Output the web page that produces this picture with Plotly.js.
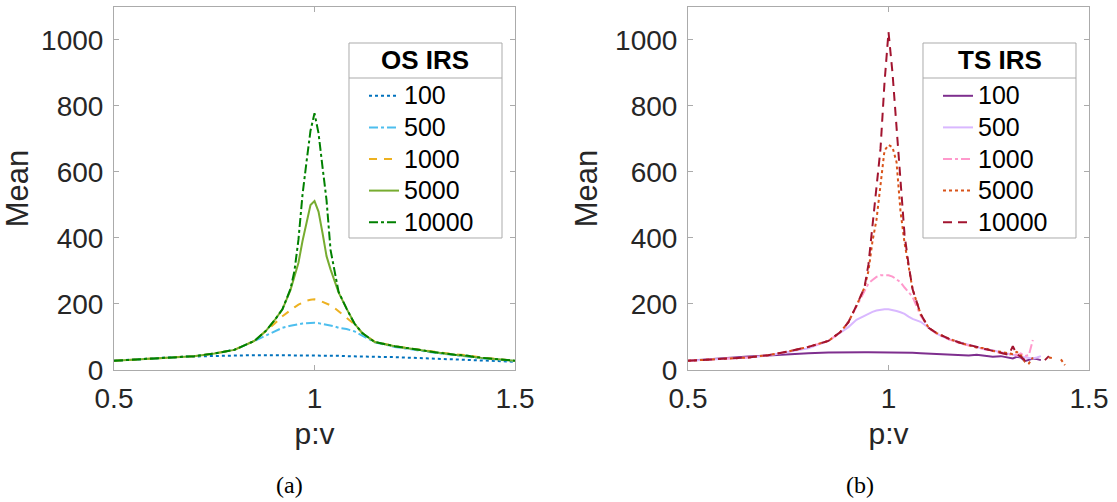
<!DOCTYPE html>
<html>
<head>
<meta charset="utf-8">
<script src="https://cdn.plot.ly/plotly-3.0.1.min.js"></script>
<style>html,body{margin:0;padding:0;background:#fff;}#chart{width:1117px;height:502px;}</style>
</head>
<body>
<div id="chart"></div>
<script>
// ---------- data ----------
const seriesNames = ['100', '500', '1000', '5000', '10000'];
const legendTitles = ['OS IRS', 'TS IRS'];
const panelLabels = ['(a)', '(b)'];
const xTicks = [0.5, 1, 1.5];
const xTickText = ['0.5', '1', '1.5'];
const yTicks = [0, 200, 400, 600, 800, 1000];
const yTickText = ['0', '200', '400', '600', '800', '1000'];

// (a) OS IRS
const xOS = [0.5,0.55,0.6,0.65,0.7,0.75,0.8,0.85,0.88,0.9,0.92,0.94,0.95,0.96,0.97,0.98,0.99,1.0,1.01,1.02,1.03,1.04,1.05,1.06,1.08,1.1,1.12,1.15,1.2,1.25,1.3,1.35,1.38,1.4,1.42,1.45,1.48,1.5];
const os100   = [28,32,36,39,41,43,45,45,45,45,45,44,44,44,44,44,44,44,44,44,43,43,43,43,42,41,41,40,39,37,35,32,31,30,29,27,26,25];
const os500   = [28,31,34,38,42,50,61,88,106,118,128,134,137,139,141,142,143,143,142,140,138,135,132,128,124,117,104,84,70,60,52,45,42,38,35,32,29,27];
const os1000  = [28,31,34,38,42,50,61,88,118,140,163,182,190,198,205,210,213,214,212,207,201,196,188,178,160,138,111,86,72,63,55,47,45,41,37,34,30,28];
const os5000  = [28,31,34,38,42,50,61,88,120,150,184,242,285,325,390,450,500,512,480,415,345,305,270,235,186,140,111,85,72,62,54,46,43,39,36,33,30,28];
const os10000 = [28,31,34,38,42,50,61,88,120,150,184,245,300,395,530,630,725,778,718,615,515,364,296,237,186,140,111,85,72,62,54,46,44,39,37,33,31,28];

// (b) TS IRS
const xTS = [0.5,0.55,0.6,0.65,0.7,0.75,0.8,0.85,0.88,0.9,0.92,0.94,0.95,0.96,0.97,0.98,0.99,1.0,1.01,1.02,1.03,1.04,1.05,1.06,1.08,1.1,1.12,1.15,1.18,1.2,1.22,1.24,1.26,1.28,1.3,1.31,1.32,1.33,1.34,1.35,1.36,1.37,1.38,1.39,1.4,1.41,1.42,1.43,1.44];
const ts100   = [28,33,37,41,44,48,51,53,54,54,54,54,54,54,54,54,54,54,53,53,53,53,52,52,51,50,48,46,45,44,46,42,40,42,36,35,40,38,27,30,35,33,30,null,null,null,null,null,null];
const ts500   = [28,31,34,38,44,54,66,88,112,130,152,165,170,176,180,183,184,184,182,179,175,170,162,155,146,128,110,93,84,78,70,62,60,54,50,48,44,40,38,36,35,38,42,null,null,null,null,null,null];
const ts1000  = [28,31,34,38,45,56,70,88,115,145,192,242,262,273,282,287,288,287,283,275,266,250,235,222,165,128,110,93,80,74,68,63,57,52,46,50,44,50,42,45,91,null,null,null,null,null,null,null,null];
const ts5000  = [28,31,34,38,45,56,70,88,115,145,195,250,300,390,455,565,665,682,675,630,480,385,315,245,170,128,112,95,82,74,68,66,58,55,50,48,55,45,25,20,38,null,null,null,38,36,null,32,15];
const ts10000 = [28,31,34,38,45,56,70,88,115,145,195,250,320,430,540,670,870,1024,900,740,580,410,320,245,170,128,112,95,82,76,70,64,56,52,46,72,48,40,30,38,null,null,null,30,42,null,null,null,null];

// ---------- styles ----------
const osColors = ['#0072BD', '#4DBEEE', '#EDB120', '#77AC30', '#008000'];
const osDash = ['dot', 'dashdot', '8px,7px', 'solid', 'dashdot'];
const tsColors = ['#7E2F8E', '#D9B8FF', '#FF99CC', '#D95319', '#A2142F'];
const tsDash = ['solid', 'solid', 'dashdot', 'dot', '9px,6px'];

const osData = [os100, os500, os1000, os5000, os10000];
const tsData = [ts100, ts500, ts1000, ts5000, ts10000];

const entryLabel = s => '<span style="font-size:25px">' + s + '</span>';

const traces = [];
osData.forEach((ys, i) => traces.push({
  x: xOS, y: ys, type: 'scatter', mode: 'lines', name: entryLabel(seriesNames[i]),
  line: {color: osColors[i], dash: osDash[i], width: 2},
  xaxis: 'x', yaxis: 'y', legend: 'legend', connectgaps: false
}));
tsData.forEach((ys, i) => traces.push({
  x: xTS, y: ys, type: 'scatter', mode: 'lines', name: entryLabel(seriesNames[i]),
  line: {color: tsColors[i], dash: tsDash[i], width: 2},
  xaxis: 'x2', yaxis: 'y2', legend: 'legend2', connectgaps: false
}));

const FONT = 'Liberation Sans, Arial, Helvetica, sans-serif';
const GRAY = '#ababab';
const axisCommon = {
  showline: true, linecolor: GRAY, linewidth: 1, mirror: 'ticks',
  ticks: 'inside', ticklen: 5, tickcolor: GRAY, tickwidth: 1,
  showgrid: false, zeroline: false, automargin: false,
  tickfont: {family: FONT, size: 28, color: '#262626'}
};
function xAx(domain, anchor) {
  return Object.assign({}, axisCommon, {
    domain: domain, anchor: anchor, range: [0.5, 1.5],
    tickvals: xTicks, ticktext: xTickText, ticklabelstandoff: 3,
    title: {text: 'p:v', font: {family: FONT, size: 30, color: '#262626'}, standoff: 10}
  });
}
function yAx(anchor) {
  return Object.assign({}, axisCommon, {
    domain: [0.26295, 0.98606], anchor: anchor, range: [0, 1100],
    tickvals: yTicks, ticktext: yTickText, ticklabelstandoff: 4,
    title: {text: 'Mean', font: {family: FONT, size: 31, color: '#262626'}, standoff: 8}
  });
}
function legendCfg(x) {
  return {
    x: x, y: 0.8506, xanchor: 'left', yanchor: 'top', xref: 'paper', yref: 'paper',
    bgcolor: 'rgba(0,0,0,0)', borderwidth: 0,
    font: {family: FONT, size: 22, color: '#000000'},
    itemwidth: 30, tracegroupgap: 0
  };
}

// legend frames (paper fractions)
const boxes = [
  {x0: 0.31244, x1: 0.44942, xc: 0.38093, legX: 0.32587},
  {x0: 0.82632, x1: 0.96329, xc: 0.89481, legX: 0.83975}
];
const shapes = [];
const annotations = [];
boxes.forEach((b, i) => {
  shapes.push({type: 'rect', xref: 'paper', yref: 'paper', x0: b.x0, x1: b.x1, y0: 0.52590, y1: 0.91434,
    line: {color: GRAY, width: 1}, fillcolor: 'rgba(0,0,0,0)', layer: 'above'});
  shapes.push({type: 'line', xref: 'paper', yref: 'paper', x0: b.x0, x1: b.x1, y0: 0.84462, y1: 0.84462,
    line: {color: GRAY, width: 1}, layer: 'above'});
  annotations.push({text: '<b>' + legendTitles[i] + '</b>', xref: 'paper', yref: 'paper', x: b.xc, y: 0.8805,
    xanchor: 'center', yanchor: 'middle', showarrow: false, font: {family: FONT, size: 26, color: '#000000'}});
});
annotations.push({text: panelLabels[0], xref: 'paper', yref: 'paper', x: 0.2596, y: 0.034, xanchor: 'center', yanchor: 'middle', showarrow: false,
  font: {family: 'Liberation Serif, Times New Roman, serif', size: 24, color: '#000000'}});
annotations.push({text: panelLabels[1], xref: 'paper', yref: 'paper', x: 0.7703, y: 0.034, xanchor: 'center', yanchor: 'middle', showarrow: false,
  font: {family: 'Liberation Serif, Times New Roman, serif', size: 24, color: '#000000'}});

const layout = {
  width: 1117, height: 502,
  margin: {l: 0, r: 0, t: 0, b: 0},
  paper_bgcolor: '#ffffff', plot_bgcolor: '#ffffff',
  font: {family: FONT, color: '#262626'},
  xaxis: xAx([0.10206, 0.46106], 'y'),
  yaxis: yAx('x'),
  xaxis2: xAx([0.61594, 0.97493], 'y2'),
  yaxis2: yAx('x2'),
  legend: legendCfg(boxes[0].legX),
  legend2: legendCfg(boxes[1].legX),
  showlegend: true,
  shapes: shapes,
  annotations: annotations
};

Plotly.newPlot('chart', traces, layout, {displayModeBar: false, staticPlot: true});
</script>
</body>
</html>
